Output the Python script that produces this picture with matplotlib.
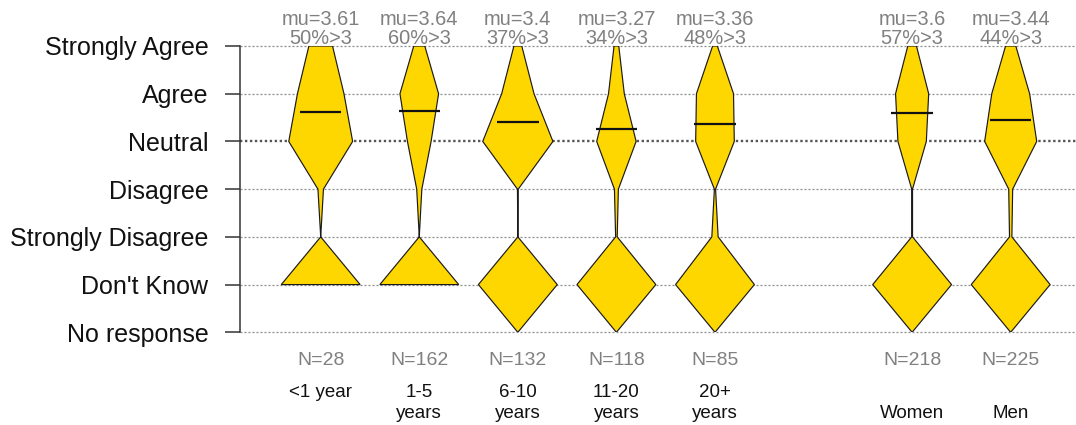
import numpy as np
import matplotlib
matplotlib.use("Agg")
import matplotlib.pyplot as plt
from matplotlib.patches import Polygon

plt.rcParams["font.family"] = ["Liberation Sans", "DejaVu Sans"]

# response levels, top to bottom, and their numeric scores
levels = ["Strongly Agree", "Agree", "Neutral", "Disagree",
          "Strongly Disagree", "Don't Know", "No response"]
level_score = [5, 4, 3, 2, 1, 0, -1]

groups = ["<1 year", "1-5\nyears", "6-10\nyears", "11-20\nyears",
          "20+\nyears", "Women", "Men"]
# 0 = tenure, 1 = gender (a gap is left between the two sets)
group_set = [0, 0, 0, 0, 0, 1, 1]

n_resp = [28, 162, 132, 118, 85, 218, 225]
mu = [3.61, 3.64, 3.4, 3.27, 3.36, 3.6, 3.44]
pct_agree = [50, 60, 37, 34, 48, 57, 44]

# relative bean width at each level (same order as levels), nan = level absent
nan = np.nan
w_lt1 = [0.30, 0.59, 0.81, 0.07, 0.00, 1.0, nan]
w_1_5 = [0.14, 0.49, 0.30, 0.065, 0.00, 1.0, nan]
w_6_10 = [0.10, 0.41, 0.89, 0.01, 0.00, 1.0, 0.0]
w_11_20 = [0.06, 0.20, 0.50, 0.05, 0.02, 1.0, 0.0]
w_20p = [0.06, 0.47, 0.49, 0.015, 0.08, 1.0, 0.0]
w_women = [0.11, 0.42, 0.36, 0.01, 0.01, 1.0, 0.0]
w_men = [0.13, 0.48, 0.66, 0.05, 0.03, 1.0, 0.0]
bean_widths = [w_lt1, w_1_5, w_6_10, w_11_20, w_20p, w_women, w_men]


def draw_bean(ax, xc, widths, half_max=0.4):
    y = np.array(level_score, dtype=float)
    w = np.array(widths, dtype=float)
    ok = ~np.isnan(w)
    y, w = y[ok], w[ok] * half_max
    xs = np.concatenate([xc + w, (xc - w)[::-1]])
    ys = np.concatenate([y, y[::-1]])
    poly = Polygon(np.column_stack([xs, ys]), closed=True, facecolor="gold",
                   edgecolor="#1a1a1a", lw=0.85, zorder=3)
    ax.add_patch(poly)


def main():
    fig = plt.figure(figsize=(10.76, 4.25), dpi=100)
    W, H = 1076.0, 425.0
    ax = fig.add_axes([240 / W, (H - 332.3) / H, 1 - 240 / W, (332.3 - 46) / H])

    pos = [i + 1 + s for i, s in enumerate(group_set)]
    ax.set_xlim(1 - 80.7 / 98.57, 1 + 755.3 / 98.57)
    ax.set_ylim(-1, 5)

    # dotted guide lines
    for s in level_score:
        if s == 3:
            ax.axhline(s, color="#555555", lw=1.7, ls=(0, (1, 1.1)),
                       zorder=1, clip_on=False)
        else:
            ax.axhline(s, color="#8c8c8c", lw=0.9, ls=(0, (1.6, 1.6)),
                       zorder=1, clip_on=False)

    for xc, wd, m in zip(pos, bean_widths, mu):
        draw_bean(ax, xc, wd)
        ax.plot([xc - 0.21, xc + 0.21], [m, m], color="#111111", lw=1.6,
                solid_capstyle="butt", zorder=4)

    # text above and below each bean
    gray = "#808080"
    for xc, m, p, n, g in zip(pos, mu, pct_agree, n_resp, groups):
        ax.text(xc, 5.44, f"mu={m:g}", ha="center", va="baseline",
                fontsize=14.4, color=gray, clip_on=False)
        ax.text(xc, 5.052, f"{p}%>3", ha="center", va="baseline",
                fontsize=14.4, color=gray, clip_on=False)
        ax.text(xc, -1.685, f"N={n}", ha="center", va="baseline",
                fontsize=14, color=gray, clip_on=False)
        lines = g.split("\n")
        if len(lines) == 1 and g in ("Women", "Men"):
            lines = ["", g]
        for k, ln in enumerate(lines):
            ax.text(xc, [-2.355, -2.806][k], ln, ha="center", va="baseline",
                    fontsize=13.5, color="#111111", clip_on=False)

    ax.set_yticks(level_score)
    ax.set_yticklabels(levels, fontsize=18, color="#111111")
    ax.set_xticks([])
    ax.tick_params(axis="y", length=10.8, width=1.1, pad=12, color="#333333")
    for side in ("top", "right", "bottom"):
        ax.spines[side].set_visible(False)
    ax.spines["left"].set_bounds(-1, 5)
    ax.spines["left"].set_color("#333333")
    ax.spines["left"].set_linewidth(1.1)
    ax.patch.set_visible(False)

    fig.savefig("out.png", dpi=100)


if __name__ == "__main__":
    main()
